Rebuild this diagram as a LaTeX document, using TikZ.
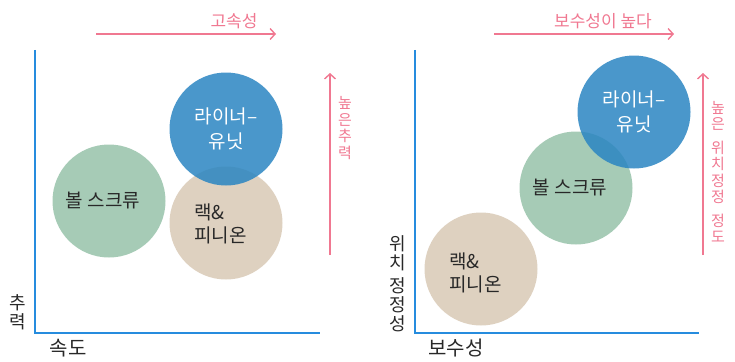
\documentclass[tikz,border=0pt]{standalone}
\usepackage{fontspec}
\setmainfont{Noto Sans CJK KR}
\usetikzlibrary{arrows.meta}
\definecolor{cblue}{RGB}{42,133,194}
\definecolor{cgreen}{RGB}{166,203,182}
\definecolor{ctan}{RGB}{222,209,192}
\definecolor{axisblue}{RGB}{38,140,222}
\definecolor{pinkc}{RGB}{240,120,145}
\definecolor{txt}{RGB}{40,40,40}
\tikzset{
  bubble/.style={circle, minimum size=113pt, inner sep=0pt, draw=none},
  bluebubble/.style={bubble, fill=cblue, fill opacity=0.85, text opacity=1, text=white, align=center, font=\fontsize{19}{25}\selectfont},
  greenbubble/.style={bubble, fill=cgreen},
  tanbubble/.style={bubble, fill=ctan},
  intext/.style={text=txt, font=\fontsize{19}{23}\selectfont, inner sep=0pt},
  axisline/.style={draw=axisblue, line width=1.8pt},
  pinkarrow/.style={draw=pinkc, line width=1.6pt, -{Straight Barb[length=5pt,width=11pt,line width=1.4pt]}},
  pinklabel/.style={text=pinkc, font=\fontsize{17}{18}\selectfont, inner sep=0pt},
  vlabel/.style={text=txt, font=\fontsize{18}{19}\selectfont, inner sep=0pt, align=center},
  axislabel/.style={text=txt, font=\fontsize{20}{20}\selectfont, inner sep=0pt}
}
\begin{document}
\begin{tikzpicture}[x=1pt,y=-1pt]
\useasboundingbox (0,0) rectangle (735,361);
% ---------- left panel ----------
\coordinate (ltop) at (35,50);
\coordinate (lorig) at (35,333);
\coordinate (lright) at (320,333);
\draw[axisline] (ltop) -- (lorig) -- (lright);
\coordinate (la1) at (96,34);
\coordinate (la2) at (276,34);
\draw[pinkarrow] (la1) -- (la2);
\node[pinklabel] (lal) at (234,21) {고속성};
\coordinate (lb1) at (330,255);
\coordinate (lb2) at (330,73);
\draw[pinkarrow] (lb1) -- (lb2);
\node[pinklabel, align=center, font=\fontsize{15}{16.5}\selectfont] (lbl) at (345,128) {높\\은\\추\\력};
\node[greenbubble] (lg) at (109,201) {};
\node[tanbubble] (lt) at (226,223) {};
\node[bluebubble] (lbu) at (226,129) {라이너–\\유닛};
\node[intext] (lgt) at (103,201) {볼 스크류};
\node[intext, align=left, anchor=west] (ltt) at (194,224) {랙\&\\피니온};
\node[vlabel] (lyl) at (18,312) {추\\력};
\node[axislabel] (lxl) at (68,348) {속도};
% ---------- right panel ----------
\coordinate (rtop) at (415,50);
\coordinate (rorig) at (415,333);
\coordinate (rright) at (699,333);
\draw[axisline] (rtop) -- (rorig) -- (rright);
\coordinate (ra1) at (494,34);
\coordinate (ra2) at (674,34);
\draw[pinkarrow] (ra1) -- (ra2);
\node[pinklabel] (ral) at (603,21) {보수성이 높다};
\coordinate (rb1) at (703,255);
\coordinate (rb2) at (703,73);
\draw[pinkarrow] (rb1) -- (rb2);
\node[pinklabel, align=center, font=\fontsize{15}{16.5}\selectfont] (rbl) at (718,172) {높\\은\\[7pt]위\\치\\정\\정\\[7pt]정\\도};
\node[tanbubble] (rt) at (481,269) {};
\node[greenbubble] (rg) at (576,188) {};
\node[bluebubble] (rbu) at (634,112) {라이너–\\유닛};
\node[intext] (rgt) at (570,188) {볼 스크류};
\node[intext, align=left, anchor=west] (rtt) at (449,273) {랙\&\\피니온};
\node[vlabel] (ryl) at (398,284) {위\\치\\[4pt]정\\정\\성};
\node[axislabel] (rxl) at (456,348) {보수성};
\end{tikzpicture}
\end{document}
